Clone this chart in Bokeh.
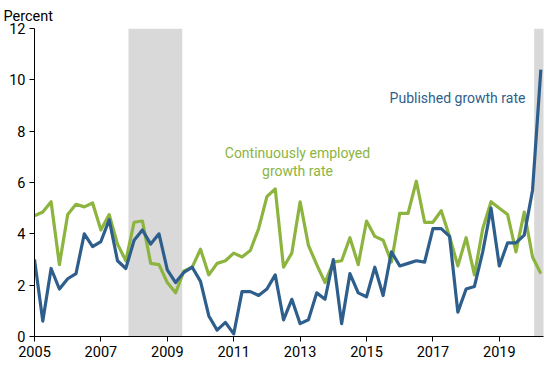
from bokeh.plotting import figure
from bokeh.models import BoxAnnotation, Label, FixedTicker, Range1d, ColumnDataSource
from bokeh.embed import file_html
from bokeh.resources import INLINE

start_year = 2005.0
published = [3.0, 0.6, 2.65, 1.85, 2.25, 2.45, 4.0, 3.5, 3.7, 4.55, 2.95, 2.65,
             3.75, 4.15, 3.6, 4.0, 2.6, 2.1, 2.5, 2.7, 2.15, 0.8, 0.25, 0.55,
             0.1, 1.75, 1.75, 1.6, 1.85, 2.4, 0.65, 1.45, 0.5, 0.65, 1.7, 1.45,
             3.0, 0.5, 2.45, 1.7, 1.55, 2.7, 1.6, 3.3, 2.75, 2.85, 2.95, 2.9,
             4.2, 4.2, 3.9, 0.95, 1.85, 1.95, 3.3, 5.0, 2.75, 3.65, 3.65, 3.95,
             5.7, 10.4]
continuous = [4.7, 4.85, 5.25, 2.8, 4.75, 5.15, 5.05, 5.2, 4.15, 4.75, 3.6, 2.95,
              4.45, 4.5, 2.85, 2.8, 2.1, 1.7, 2.55, 2.7, 3.4, 2.4, 2.85, 2.95,
              3.25, 3.1, 3.35, 4.2, 5.45, 5.75, 2.7, 3.25, 5.25, 3.55, 2.8, 2.1,
              2.9, 2.95, 3.85, 2.8, 4.5, 3.9, 3.75, 2.9, 4.8, 4.8, 6.05, 4.45,
              4.45, 4.9, 3.9, 2.75, 3.85, 2.4, 4.2, 5.25, 5.0, 4.75, 3.3, 4.85,
              3.1, 2.45]
recessions = [(2007.83, 2009.45), (2020.05, 2020.4)]
x_ticks = [2005, 2007, 2009, 2011, 2013, 2015, 2017, 2019]
y_ticks = [0, 2, 4, 6, 8, 10, 12]

dates = [start_year + 0.25 * i for i in range(len(published))]
src = ColumnDataSource(dict(date=dates, pub=published, cont=continuous))

BLUE = "#2e5f8c"
GREEN = "#8cb43f"
FONT = "Roboto"

p = figure(width=550, height=365, output_backend="svg", toolbar_location=None,
           x_range=Range1d(2005, 2020.33), y_range=Range1d(0, 12),
           min_border_left=34, min_border_right=7, min_border_top=28,
           min_border_bottom=29, title="Percent")
p.outline_line_color = None
p.grid.visible = False
p.background_fill_color = "white"

p.title.align = "left"
p.title.offset = -31
p.title.text_font = FONT
p.title.text_font_size = "14.5px"
p.title.text_font_style = "normal"
p.title.text_color = "black"
p.title.standoff = 8

for a, b in recessions:
    p.add_layout(BoxAnnotation(left=a, right=b, fill_color="#d9d9d9",
                               fill_alpha=1.0, line_color=None, level="underlay"))

p.line("date", "cont", source=src, line_color=GREEN, line_width=3.2, line_join="round")
p.line("date", "pub", source=src, line_color=BLUE, line_width=3.2, line_join="round")

for ax in (p.xaxis[0], p.yaxis[0]):
    ax.axis_line_color = "black"
    ax.major_tick_line_color = "black"
    ax.minor_tick_line_color = None
    ax.major_tick_in = 0
    ax.major_tick_out = 5
    ax.major_label_text_font = FONT
    ax.major_label_text_font_size = "14.5px"
    ax.major_label_text_color = "black"
    ax.major_label_standoff = 4

p.xaxis.ticker = FixedTicker(ticks=x_ticks)
p.yaxis.ticker = FixedTicker(ticks=y_ticks)

p.add_layout(Label(x=2017.74, y=9.31, text="Published growth rate",
                   text_font=FONT, text_font_size="14px", text_color=BLUE,
                   text_baseline="middle", text_align="center"))
p.add_layout(Label(x=2012.92, y=7.13, text="Continuously employed",
                   text_font=FONT, text_font_size="14px", text_color=GREEN,
                   text_baseline="middle", text_align="center"))
p.add_layout(Label(x=2012.92, y=6.43, text="growth rate",
                   text_font=FONT, text_font_size="14px", text_color=GREEN,
                   text_baseline="middle", text_align="center"))

open("out.html", "w").write(file_html(p, INLINE))
